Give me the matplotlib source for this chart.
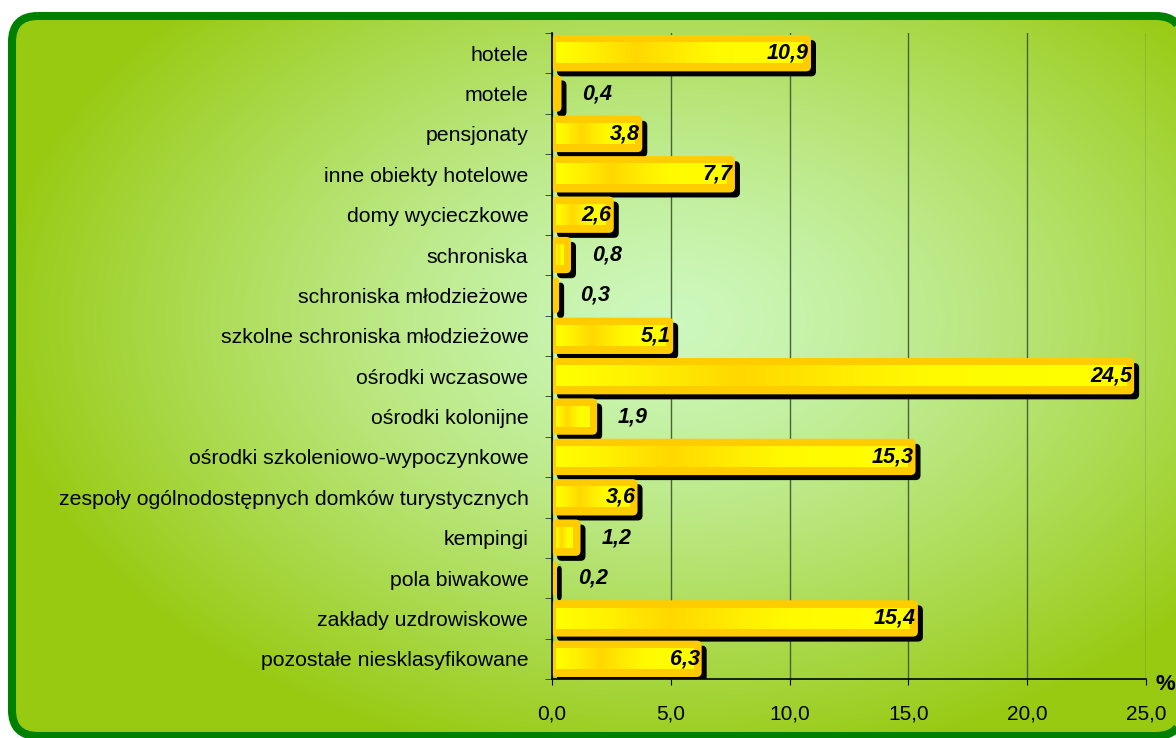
import matplotlib
matplotlib.use("Agg")
import matplotlib.pyplot as plt
import numpy as np
from matplotlib.patches import FancyBboxPatch, Polygon
from matplotlib import transforms
from matplotlib.colors import LinearSegmentedColormap

# data
categories = ['hotele', 'motele', 'pensjonaty', 'inne obiekty hotelowe',
              'domy wycieczkowe', 'schroniska', 'schroniska młodzieżowe',
              'szkolne schroniska młodzieżowe', 'ośrodki wczasowe',
              'ośrodki kolonijne', 'ośrodki szkoleniowo-wypoczynkowe',
              'zespoły ogólnodostępnych domków turystycznych', 'kempingi',
              'pola biwakowe', 'zakłady uzdrowiskowe',
              'pozostałe niesklasyfikowane']
values = [10.9, 0.4, 3.8, 7.7, 2.6, 0.8, 0.3, 5.1, 24.5, 1.9, 15.3, 3.6,
          1.2, 0.2, 15.4, 6.3]
inside_label = [True, False, True, True, True, False, False, True, True,
                False, True, True, False, False, True, True]
x_ticks = [0, 5, 10, 15, 20, 25]

plt.rcParams['font.family'] = ['Liberation Sans', 'DejaVu Sans']

W, H = 1176, 738
fig = plt.figure(figsize=(W / 100, H / 100), dpi=100)

# background panel with radial gradient
bg = fig.add_axes([0, 0, 1, 1])
bg.set_xlim(0, W)
bg.set_ylim(H, 0)
bg.axis('off')

yy, xx = np.mgrid[0:H:2, 0:W:2]
r = np.sqrt(((xx - 670) / 680.0) ** 2 + ((yy - 320) / 450.0) ** 2)
t = np.clip(r, 0, 1) ** 1.3
c_in = np.array([205, 248, 190]) / 255.0
c_out = np.array([152, 202, 18]) / 255.0
img = c_in[None, None, :] * (1 - t[..., None]) + c_out[None, None, :] * t[..., None]

rounded = FancyBboxPatch((12, 16), 1170, 720,
                         boxstyle="round,pad=0,rounding_size=26")
# flatten the curves so the outline is not mangled where it leaves the canvas
verts = rounded.get_path().to_polygons()[0]
panel = Polygon(verts, closed=True, facecolor='none', edgecolor='#008000',
                linewidth=5.8, zorder=3)
bg.add_patch(panel)
im = bg.imshow(img, extent=[0, W, H, 0], interpolation='bilinear',
               zorder=1, aspect='auto')
im.set_clip_path(panel)
bg.set_xlim(0, W)
bg.set_ylim(H, 0)

# main chart axes
x0, x1, y0, y1 = 552, 1146, 33, 679
ax = fig.add_axes([x0 / W, 1 - y1 / H, (x1 - x0) / W, (y1 - y0) / H])
ax.set_facecolor('none')
n = len(categories)
ax.set_xlim(0, 25)
ax.set_ylim(n - 0.5, -0.5)

px_x = 25.0 / (x1 - x0)
px_y = n / float(y1 - y0)
aspect = px_y / px_x

ax.grid(axis='x', color='#46633a', linewidth=1.0, zorder=0)
ax.set_axisbelow(True)

bars = ax.barh(np.arange(n), values, height=0.9, color='none', edgecolor='none')
shadow_tr = transforms.offset_copy(ax.transData, fig=fig, x=5, y=-5, units='dots')

# inner highlight: yellow with a soft gold patch left of centre
grad = LinearSegmentedColormap.from_list(
    'gold', [(0.0, '#ffff00'), (0.15, '#fff000'), (0.32, '#ffd800'),
             (0.5, '#ffec00'), (0.65, '#fffa00'), (1.0, '#ffff00')])
row = grad(np.linspace(0, 1, 200))[None, :, :3]
stripe = np.repeat(row, 6, axis=0)

for i, (b, v) in enumerate(zip(bars, values)):
    bx, by = b.get_x(), b.get_y()
    bw, bh = b.get_width(), b.get_height()
    rs = 5 * px_x
    shadow = FancyBboxPatch((bx, by), bw, bh,
                            boxstyle="round,pad=0,rounding_size=%f" % rs,
                            mutation_aspect=aspect, facecolor='black',
                            edgecolor='none', transform=shadow_tr, zorder=2)
    ax.add_patch(shadow)
    body = FancyBboxPatch((bx, by), bw, bh,
                          boxstyle="round,pad=0,rounding_size=%f" % rs,
                          mutation_aspect=aspect, facecolor='#ffcc00',
                          edgecolor='none', zorder=3)
    ax.add_patch(body)
    iw = bw - 12 * px_x
    if iw > 0:
        ax.imshow(stripe, extent=[bx + 4 * px_x, bx + 4 * px_x + iw,
                                  by + bh - 8 * px_y, by + 8 * px_y],
                  aspect='auto', interpolation='bilinear', zorder=4)
    lbl = ('%.1f' % v).replace('.', ',')
    if inside_label[i]:
        ax.text(v - 2 * px_x, i, lbl, ha='right', va='center', fontsize=15.5,
                fontweight='bold', fontstyle='italic', color='black', zorder=5)
    else:
        ax.text(v + 21 * px_x, i, lbl, ha='left', va='center', fontsize=15.5,
                fontweight='bold', fontstyle='italic', color='black', zorder=5)

ax.set_xlim(0, 25)
ax.set_ylim(n - 0.5, -0.5)

ax.set_xticks(x_ticks)
ax.set_xticklabels([('%.1f' % v).replace('.', ',') for v in x_ticks], fontsize=15)
ax.set_yticks(np.arange(n))
ax.set_yticklabels(categories, fontsize=15.3)
ax.set_yticks(np.arange(n + 1) - 0.5, minor=True)
ax.tick_params(axis='y', which='major', length=0, pad=17)
ax.tick_params(axis='y', which='minor', length=5, color='#333333', direction='out')
ax.tick_params(axis='x', length=4, direction='out', pad=14, color='black')
for s in ['top', 'right']:
    ax.spines[s].set_visible(False)
ax.spines['left'].set_linewidth(1.2)
ax.spines['bottom'].set_linewidth(1.2)
ax.spines['left'].set_zorder(6)

fig.text(1156 / W, 1 - 684 / H, '%', fontsize=16, fontweight='bold',
         ha='left', va='center')

fig.savefig('out.png', dpi=100)
